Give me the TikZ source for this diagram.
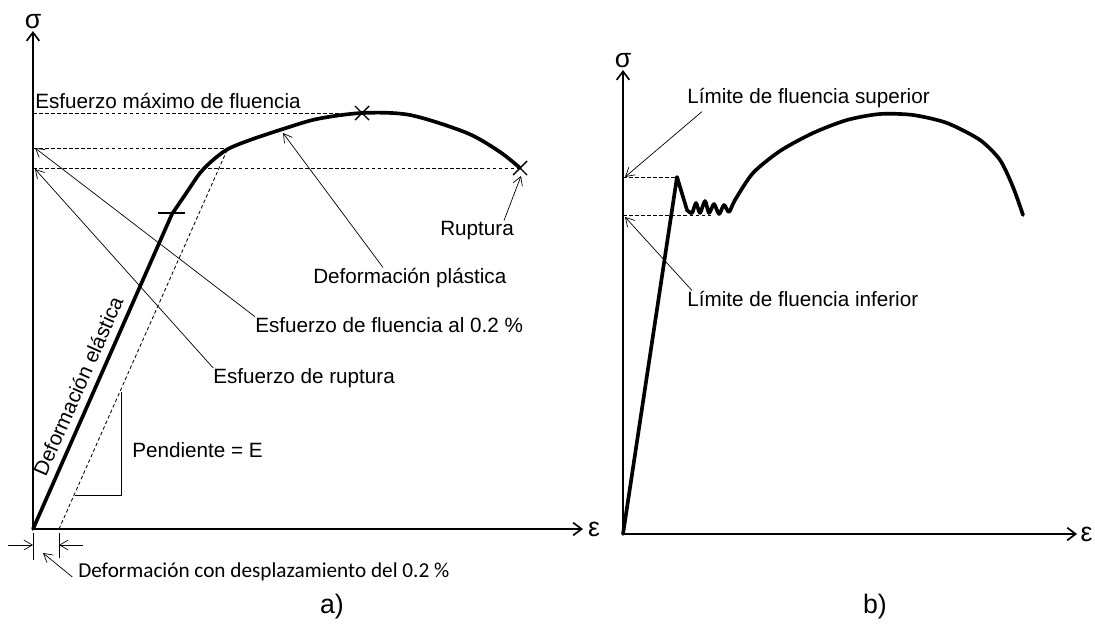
\documentclass[tikz,border=0pt]{standalone}
\usepackage{fontspec}
\setmainfont{Liberation Sans}
\newfontfamily\calibfont{Carlito}
\usetikzlibrary{arrows.meta}
\begin{document}
\begin{tikzpicture}
        [x=0.025cm, y=-0.025cm,
        every node/.style={inner sep=0pt, font=\fontsize{14.7}{17}\selectfont},
        axis/.style={line width=1.2pt, -{Straight Barb[length=6pt,width=9pt]}},
        big/.style={font=\fontsize{19}{22}\selectfont},
        curve/.style={line width=2.6pt, line join=round, line cap=round},
        guide/.style={line width=0.6pt, dash pattern=on 2.5pt off 1.8pt},
        callout/.style={line width=0.5pt, -{Straight Barb[length=6pt,width=7pt]}},
        crossmark/.style={line width=1pt},
        ]
        \useasboundingbox (0,0) rectangle (1095,626);
        % a) curva con desplazamiento
        \coordinate (oa) at (33,529);
        \coordinate (ya) at (172,214);
        \coordinate (oo) at (59,529);
        \coordinate (ma) at (362,113);
        \coordinate (ra) at (520,168);
        \coordinate (fa) at (228,148);
        \draw[axis] (oa) -- (33,31) node[above=1pt, big] (sa) {σ};
        \draw[axis] (oa) -- (583,529) node[right=3pt, big] (ea) {ε};
        \draw[guide] (33,113) -- (ma);
        \draw[guide] (33,148) -- (fa);
        \draw[guide] (33,168) -- (ra);
        \draw[guide] (oo) -- (fa);
        \draw[curve] (oa) -- (ya) -- plot[smooth, tension=0.5] coordinates
          {(172,214) (187,192) (200,173) (213,160) (228,149) (250,140) (283,129) (317,119) (362,113)
           (410,115) (467,133) (500,152) (520,168)};
        \draw[crossmark] (158,213) -- (185,213);
        \foreach \cx/\cy in {362/113, 520/168}
          \draw[crossmark] (\cx,\cy) ++(-7,-7) -- ++(14,14) (\cx,\cy) ++(-7,7) -- ++(14,-14);
        \draw[line width=0.6pt] (121,392) -- (121,495) -- (75,495);
        \node[rotate=66.2] (lel) at (78,386) {Deformación elástica};
        % etiquetas a)
        \node[anchor=base west] (lmax) at (35,108) {Esfuerzo máximo de fluencia};
        \node[anchor=base west] (lyield) at (255,332) {Esfuerzo de fluencia al 0.2 \%};
        \node[anchor=base west] (lrup) at (213,383) {Esfuerzo de ruptura};
        \node[anchor=base west] (lplast) at (313,283) {Deformación plástica};
        \node[anchor=base west] (lrupt) at (440,235) {Ruptura};
        \node[anchor=base west] (lslope) at (132,457) {Pendiente = E};
        \node[anchor=base west, font=\calibfont\fontsize{15.1}{18}\selectfont] (loffset) at (78,577)
          {Deformación con desplazamiento del 0.2 \%};
        \node[big] (la) at (332,607) {a)};
        \draw[callout] (lyield.north west) -- (35,148);
        \draw[callout] (lrup.north west) -- (35,169);
        \draw[callout] (383,0 |- lplast.north) -- (283,133);
        \draw[callout] (504,0 |- lrupt.north) -- (521,176);
        % cota del 0.2 %
        \draw[line width=0.5pt] (33,533) -- (33,560) (oo) ++(0,4) -- (59,558);
        \draw[callout] (8,545) -- (33,545);
        \draw[callout] (83,545) -- (59,545);
        \draw[callout] ([xshift=-4pt]loffset.base west) -- (43,553);
        % b) punto de fluencia
        \coordinate (ob) at (623,534);
        \coordinate (uy) at (677,177);
        \draw[axis] (ob) -- (623,70) node[above=1pt, big] (sb) {σ};
        \draw[axis] (ob) -- (1077,534) node[right=2pt, big] (eb) {ε};
        \draw[guide] (623,177) -- (uy);
        \draw[guide] (623,215) -- (712,215);
        \draw[curve] (ob) -- (uy) -- plot[smooth, tension=0.45] coordinates
          {(687,210) (692,213) (696,203) (700,213) (705,201) (709,213) (714,204) (719,214) (724,205)
           (729,212) (735,200) (753,173) (780,151) (813,133) (847,120) (880,114) (913,115) (947,123)
           (980,140) (1000,160) (1013,187) (1023,215)};
        \node[anchor=base west] (lsup) at (687,103) {Límite de fluencia superior};
        \node[anchor=base west] (linf) at (687,306) {Límite de fluencia inferior};
        \node[big] (lb) at (875,607) {b)};
        \draw[callout] (702,0 |- lsup.south) ++(0,4) -- (625,177);
        \draw[callout] (692,0 |- linf.north) -- (625,217);
\end{tikzpicture}
\end{document}
